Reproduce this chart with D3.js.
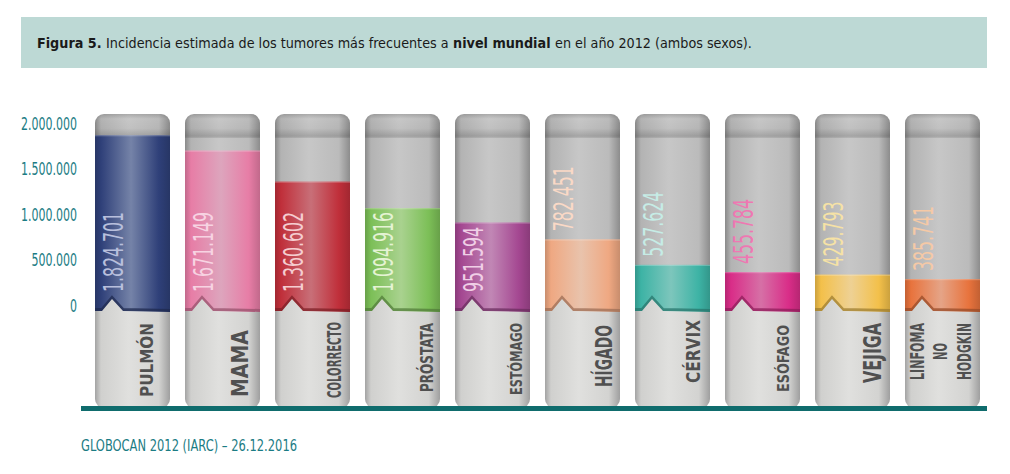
<!DOCTYPE html>
<html><head><meta charset="utf-8">
<script src="https://cdn.jsdelivr.net/npm/d3@7"></script>
<style>body{margin:0;background:#fff}svg{display:block}</style>
</head><body><svg id="c" width="1010" height="474"></svg>
<script>
// ---------- data ----------
const categories = ["PULMÓN","MAMA","COLORRECTO","PRÓSTATA","ESTÓMAGO","HÍGADO","CÉRVIX","ESÓFAGO","VEJIGA","LINFOMA\nNO\nHODGKIN"];
const incidence = [1824701,1671149,1360602,1094916,951594,782451,527624,455784,429793,385741];
const tickValues = [0,500000,1000000,1500000,2000000];
const tickLabels = ["0","500.000","1.000.000","1.500.000","2.000.000"];
const titleParts = [
  {t:"Figura 5.", b:true},
  {t:"Incidencia estimada de los tumores más frecuentes a", b:false},
  {t:"nivel mundial", b:true},
  {t:"en el año 2012 (ambos sexos).", b:false}
];
const sourceNote = "GLOBOCAN 2012 (IARC) – 26.12.2016";

// ---------- styles ----------
const barColors  = ["#2f4079","#e77da6","#c02f3a","#7cbf57","#a44791","#efa882","#3db3a5","#d92d88","#f3c04a","#e8733d"];
const barLights  = ["#7583a8","#dda5bd","#c86f78","#a9d28f","#c187b5","#e9c3ac","#7dc6bc","#d670a6","#eed194","#e5a487"];
const valueInk   = ["#b8bfdc","#f7d3e2","#f5cdd0","#e5f3d4","#f0cfe6","#fad9c6","#c6ece6","#ee78b2","#f6e2a5","#f5c9a6"];
// label layout: per line [dx of centre, length, cap height]; cy = vertical centre
const labelLayout = [
  {cy:360,  lines:[[51,74,13]]},
  {cy:363.5,lines:[[54.5,67,17]]},
  {cy:360,  lines:[[59.5,76,14]]},
  {cy:357.5,lines:[[61,69,13]]},
  {cy:359,  lines:[[61,72,12]]},
  {cy:356,  lines:[[59,62,16]]},
  {cy:351.5,lines:[[58,63,14]]},
  {cy:358.5,lines:[[58.5,67,11]]},
  {cy:353,  lines:[[57.5,60,18]]},
  {cy:351.5,lines:[[12.5,57,14],[35.5,17,14],[59.5,57,14]]}
];
const COND = "'Liberation Sans Narrow','DejaVu Sans Condensed','Arial Narrow',sans-serif";
const TEAL = "#1b7c84";

const svg = d3.select("#c");
const defs = svg.append("defs");

// title band
svg.append("rect").attr("x",21).attr("y",17).attr("width",966).attr("height",51).attr("fill","#bdd9d5");
(function(){
  const tg = svg.append("g");
  const gap = 4.5;
  const parts = titleParts.map(p=>{
    const el = tg.append("text").attr("y",48).attr("font-family",COND).attr("font-size",16)
      .attr("font-weight",p.b?"bold":"normal").attr("fill","#1a1a1a").text(p.t);
    return {el, len: el.node().getComputedTextLength()};
  });
  const natural = d3.sum(parts,p=>p.len);
  const k = (715 - gap*(parts.length-1)) / natural;
  let cx = 37;
  parts.forEach(p=>{
    p.el.attr("x",cx).attr("font-size",16*k);
    cx += p.el.node().getComputedTextLength() + gap;
  });
})();

// scales
const x = d3.scaleBand().domain(categories).range([95,980]).paddingInner(15/90).paddingOuter(0);
const yBar = d3.scaleLinear().domain([0,2000000]).range([317.6,117.6]);
const yAxisScale = d3.scaleLinear().domain([0,2000000]).range([305,123]);
const w = x.bandwidth();
const TOP = 114, SPLIT = 311, BOT = 408;

// gradients
function hGrad(id, stops){
  const g = defs.append("linearGradient").attr("id",id).attr("x1",0).attr("x2",1).attr("y1",0).attr("y2",0);
  stops.forEach(s=>g.append("stop").attr("offset",s[0]).attr("stop-color",s[1]));
}
hGrad("gUp",[[0,"#8a8a8a"],[0.08,"#b3b3b3"],[0.45,"#c7c7c7"],[0.85,"#bbbbbb"],[1,"#8c8c8c"]]);
hGrad("gLow",[[0,"#a3a3a3"],[0.08,"#d0d0ce"],[0.45,"#e0e0de"],[0.85,"#d3d3d1"],[1,"#9f9f9f"]]);
const cap = defs.append("linearGradient").attr("id","gCap").attr("x1",0).attr("x2",0).attr("y1",0).attr("y2",1);
[[0,0.14],[0.2,0],[0.6,0.03],[0.92,0.17],[1,0.08]].forEach(s=>cap.append("stop").attr("offset",s[0]).attr("stop-color","#000").attr("stop-opacity",s[1]));
barColors.forEach((c,i)=>{
  hGrad("gC"+i,[[0,d3.color(c).darker(0.5)],[0.08,c],[0.48,barLights[i]],[0.85,c],[1,d3.color(c).darker(0.5)]]);
});

// y axis
const fmtLen = s => s.split("").reduce((a,ch)=>a+(ch==="."?3.5:7),0);
const ax = svg.append("g").attr("transform","translate(77,0)")
  .call(d3.axisLeft(yAxisScale).tickValues(tickValues).tickFormat((d,i)=>tickLabels[i]).tickSize(0).tickPadding(0));
ax.select(".domain").remove();
ax.selectAll("text").attr("font-family",COND).attr("font-size",17).attr("fill",TEAL)
  .attr("dy","0.36em")
  .attr("textLength",function(){return fmtLen(this.textContent);}).attr("lengthAdjust","spacingAndGlyphs");

// bars
const es = d3.formatLocale({decimal:",",thousands:".",grouping:[3],currency:["",""]}).format(",");
const valLen = s => s.split("").reduce((a,ch)=>a+(ch==="."?5:10),0);

const g = svg.append("g").selectAll("g").data(categories).join("g");
g.each(function(cat,i){
  const sel = d3.select(this);
  const x0 = x(cat);
  const id = "clip"+i;
  defs.append("clipPath").attr("id",id).append("rect")
    .attr("x",x0).attr("y",TOP).attr("width",w).attr("height",BOT-TOP).attr("rx",9).attr("ry",9);
  const cg = sel.append("g").attr("clip-path",`url(#${id})`);
  cg.append("rect").attr("x",x0).attr("y",TOP).attr("width",w).attr("height",SPLIT-TOP+2).attr("fill","url(#gUp)");
  cg.append("rect").attr("x",x0).attr("y",TOP).attr("width",w).attr("height",24).attr("fill","url(#gCap)");
  const yt = yBar(incidence[i]);
  cg.append("rect").attr("x",x0).attr("y",yt).attr("width",w).attr("height",SPLIT+2-yt).attr("fill",`url(#gC${i})`);
  cg.append("rect").attr("x",x0).attr("y",yt).attr("width",w).attr("height",1.2).attr("fill","#fff").attr("opacity",0.25);
  const notch = `M${x0},${SPLIT} L${x0+7},${SPLIT} L${x0+17},${SPLIT-12} L${x0+28},${SPLIT} L${x0+w},${SPLIT+1}`;
  cg.append("path").attr("d",notch).attr("transform","translate(0,-1.5)").attr("fill","none")
    .attr("stroke",d3.color(barColors[i]).darker(1.2)).attr("stroke-width",3).attr("opacity",0.75);
  cg.append("path").attr("d",notch+` L${x0+w},${BOT} L${x0},${BOT} Z`).attr("fill","url(#gLow)");
  // value label
  const txt = es(incidence[i]);
  const L = valLen(txt);
  const inside = yt < 292 - L;
  const ys = inside ? 292 : yt - 8;
  sel.append("text").attr("transform",`translate(${x0+18},${ys}) rotate(-90)`)
    .attr("font-family",COND).attr("font-size",27).attr("dominant-baseline","central")
    .attr("fill",valueInk[i]).attr("textLength",L).attr("lengthAdjust","spacingAndGlyphs").text(txt);
  // category label
  const lay = labelLayout[i];
  cat.split("\n").forEach((line,k)=>{
    const [dx,len,capH] = lay.lines[k];
    sel.append("text").attr("transform",`translate(${x0+dx},${lay.cy}) rotate(-90)`)
      .attr("font-family",COND).attr("font-weight","bold").attr("font-size",capH/0.72)
      .attr("dominant-baseline","central").attr("text-anchor","middle").attr("fill","#505050")
      .attr("textLength",len).attr("lengthAdjust","spacingAndGlyphs").text(line);
  });
});

// baseline
svg.append("rect").attr("x",81).attr("y",406).attr("width",906).attr("height",5).attr("fill","#0f6c6d");

// source
svg.append("text").attr("x",81).attr("y",451).attr("font-family",COND).attr("font-size",16)
  .attr("fill",TEAL).attr("textLength",216).attr("lengthAdjust","spacingAndGlyphs").text(sourceNote);
</script></body></html>
